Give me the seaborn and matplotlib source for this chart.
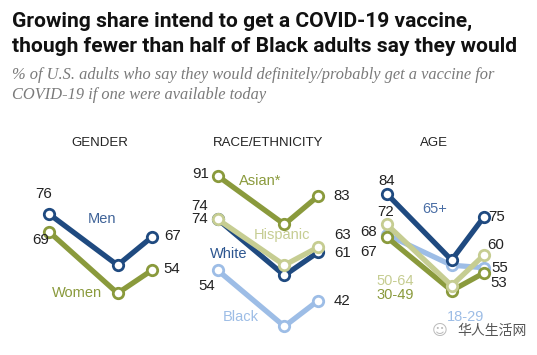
import matplotlib
matplotlib.use("Agg")
import matplotlib.pyplot as plt
import seaborn as sns
import pandas as pd

# ---- data ----
months = [5, 9, 11]  # survey waves: May, Sept, Nov 2020 (month number)

gender_series = ["Men", "Women"]
men = [76, 56, 67]
women = [69, 45, 54]

race_series = ["Black", "White", "Hispanic", "Asian*"]
black = [54, 32, 42]
white = [74, 52, 61]
hispanic = [74, 56, 63]
asian = [91, 72, 83]

age_series = ["18-29", "30-49", "50-64", "65+"]
age_18_29 = [68, 56, 55]
age_30_49 = [67, 46, 53]
age_50_64 = [72, 48, 60]
age_65p = [84, 58, 75]

title = "Growing share intend to get a COVID-19 vaccine,\nthough fewer than half of Black adults say they would"
subtitle = ("% of U.S. adults who say they would definitely/probably get a vaccine for\n"
            "COVID-19 if one were available today")

# ---- style ----
sns.set_theme(style="white")
plt.rcParams["font.family"] = ["Liberation Sans", "DejaVu Sans"]

DARK = "#1f4a80"
OLIVE = "#8a9a3c"
LGREEN = "#c6cd92"
LBLUE = "#9dbde6"

W, H = 537, 355
fig = plt.figure(figsize=(W / 100, H / 100), dpi=100)
fig.patch.set_facecolor("white")


def ftext(x, y, s, **kw):
    fig.text(x / W, 1 - y / H, s, **kw)


YLIM = (25, 95)
Y_TOP_PX = 408 - 2.55 * YLIM[1]
Y_BOT_PX = 408 - 2.55 * YLIM[0]


def make_ax(left_px, width_px):
    ax = fig.add_axes([left_px / W, 1 - Y_BOT_PX / H, width_px / W, (Y_BOT_PX - Y_TOP_PX) / H])
    ax.set_xlim(3, 13)
    ax.set_ylim(*YLIM)
    ax.axis("off")
    ax.patch.set_alpha(0)
    return ax


def draw(ax, vals, color, name, labels):
    df = pd.DataFrame({"month": months, "pct": vals, "group": name})
    sns.lineplot(data=df, x="month", y="pct", ax=ax, color=color, lw=3.8,
                 marker="o", markersize=7.5, markerfacecolor="white",
                 markeredgecolor=color, markeredgewidth=2.0, legend=False)
    # labels: list of (index, dx, dy, ha)
    for i, dx, dy, ha in labels:
        ax.annotate(str(vals[i]), (months[i], vals[i]), xytext=(dx, dy),
                    textcoords="offset pixels", ha=ha, va="center",
                    fontsize=10.8, color="#222222")


# Gender
ax1 = make_ax(15.2, 170.7)
draw(ax1, women, OLIVE, "Women", [(0, -9, -8, "center"), (2, 12, 1, "left")])
draw(ax1, men, DARK, "Men", [(0, -6, 20, "center"), (2, 12, 1, "left")])

# Race
ax2 = make_ax(184.4, 166.7)
draw(ax2, black, LBLUE, "Black", [(0, -11, -16, "center"), (2, 16, 0, "left")])
draw(ax2, white, DARK, "White", [(0, -10, 0, "right"), (2, 16, -1, "left")])
draw(ax2, hispanic, LGREEN, "Hispanic", [(0, -10, 13, "right"), (2, 16, 12, "left")])
draw(ax2, asian, OLIVE, "Asian*", [(0, -9, 2, "right"), (2, 16, 0, "left")])

# Age
ax3 = make_ax(354.3, 162.2)
draw(ax3, age_18_29, LBLUE, "18-29", [(0, -10, 3, "right"), (2, 7, 0, "left")])
draw(ax3, age_30_49, OLIVE, "30-49", [(0, -10, -15, "right"), (2, 6, -10, "left")])
draw(ax3, age_50_64, LGREEN, "50-64", [(0, -1, 12, "center"), (2, 3, 10, "left")])
draw(ax3, age_65p, DARK, "65+", [(0, 0, 13, "center"), (2, 4, 0, "left")])

# panel headings
for x, s in [(100, "GENDER"), (268, "RACE/ETHNICITY"), (434, "AGE")]:
    ftext(x, 143, s, ha="center", va="center", fontsize=9.5, color="#222222")

# series name labels
SF = 10.5
ftext(102, 219, "Men", ha="center", va="center", fontsize=SF, color="#3f6398")
ftext(77, 293, "Women", ha="center", va="center", fontsize=SF, color=OLIVE)
ftext(260, 181, "Asian*", ha="center", va="center", fontsize=SF, color=OLIVE)
ftext(282, 235, "Hispanic", ha="center", va="center", fontsize=SF, color=LGREEN)
ftext(229, 254, "White", ha="center", va="center", fontsize=SF, color="#2d5690")
ftext(241, 317, "Black", ha="center", va="center", fontsize=SF, color=LBLUE)
ftext(435, 209, "65+", ha="center", va="center", fontsize=SF, color="#4a6ea5")
ftext(395, 281, "50-64", ha="center", va="center", fontsize=SF, color=LGREEN)
ftext(395, 295, "30-49", ha="center", va="center", fontsize=SF, color=OLIVE)
ftext(466, 317, "18-29", ha="center", va="center", fontsize=SF, color=LBLUE)

# title & subtitle
ftext(12, 12, title, ha="left", va="top", fontsize=15.1, weight="bold",
      color="#111111", linespacing=1.4, family=["Roboto", "DejaVu Sans"])
ftext(12, 67, subtitle, ha="left", va="top", fontsize=11.8, style="italic",
      color="#7a7a7a", linespacing=1.3, family=["Liberation Serif", "DejaVu Serif"])

# watermark
ftext(457, 331, "华人生活网", ha="left", va="center", fontsize=10, color="#555555",
      family=["Noto Sans CJK SC", "DejaVu Sans"])
ftext(440, 331, "☺", ha="center", va="center", fontsize=11, color="#bbbbbb",
      family=["DejaVu Sans"])

fig.savefig("out.png", dpi=100, facecolor="white")
